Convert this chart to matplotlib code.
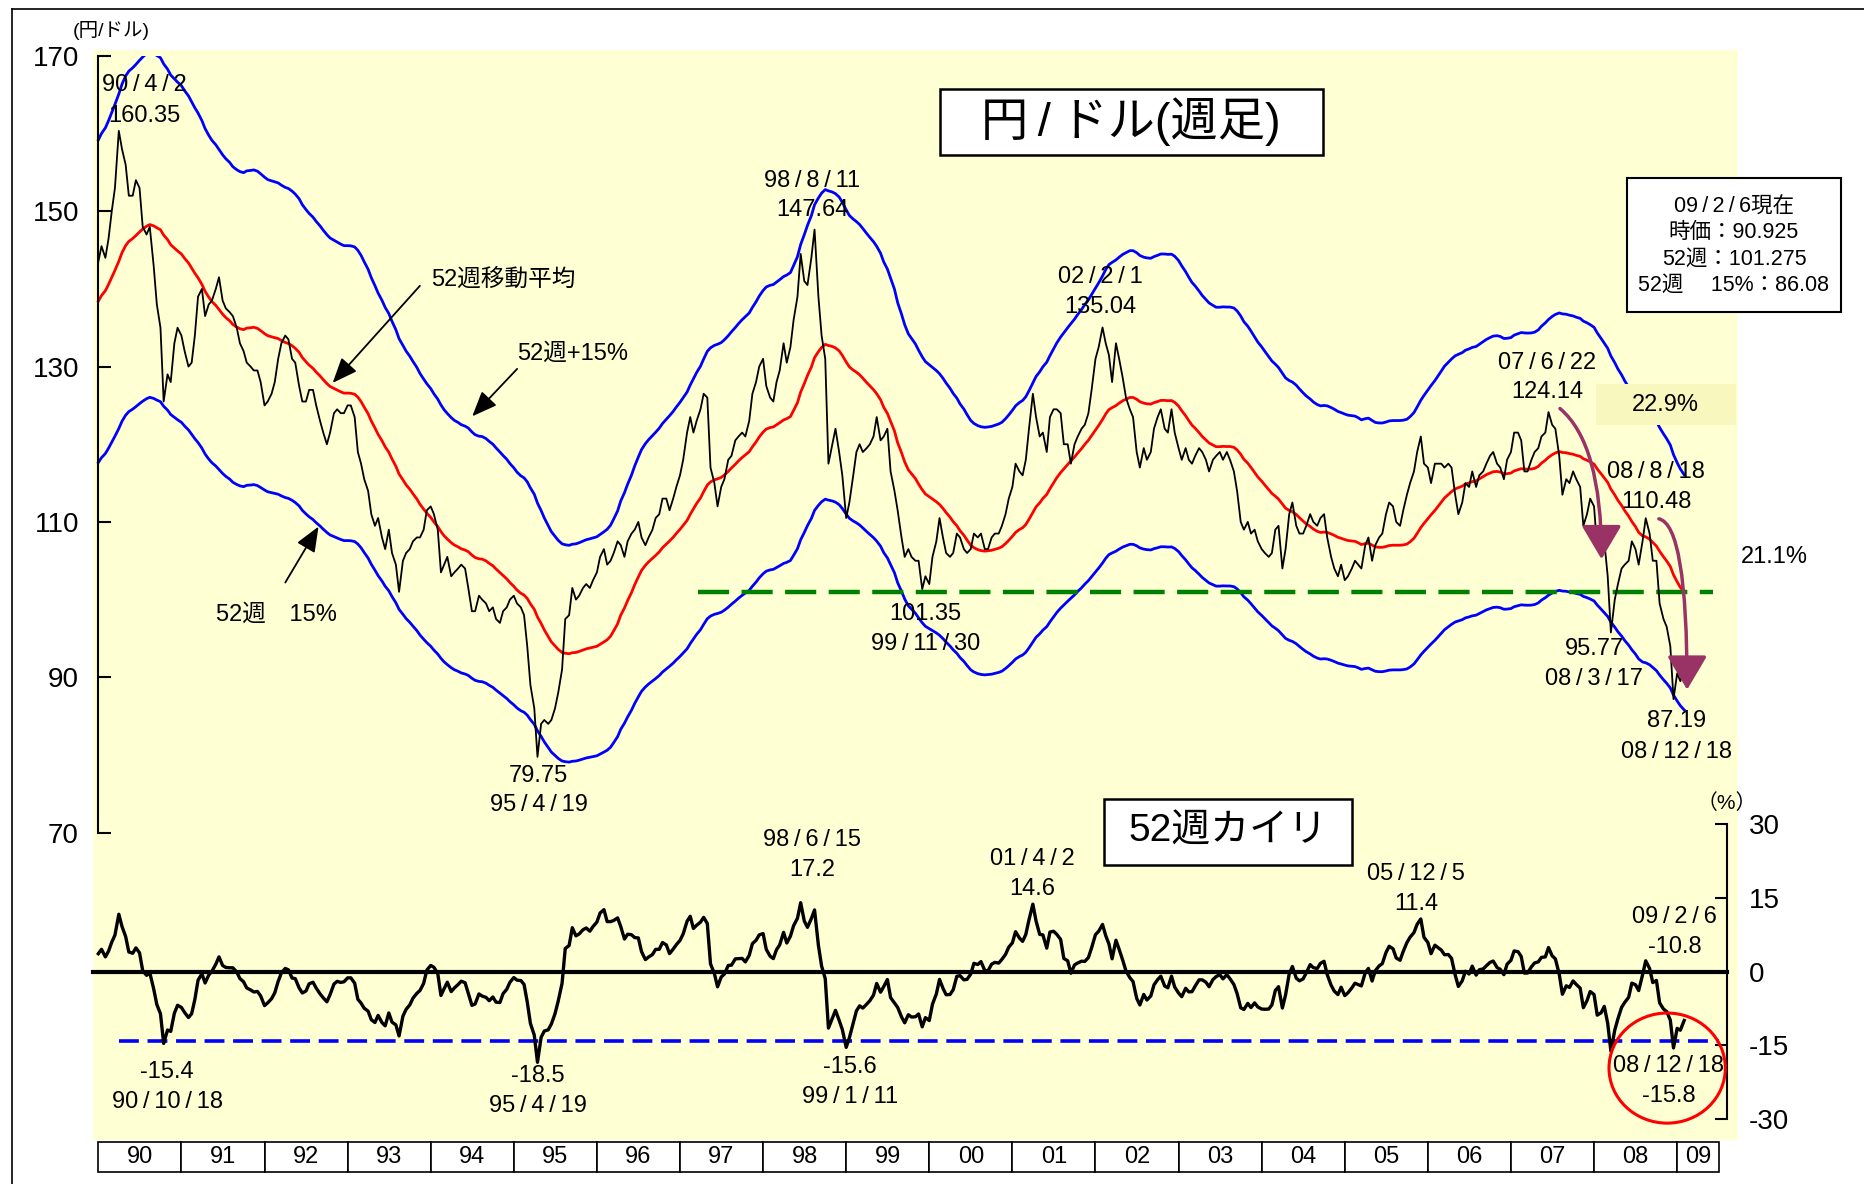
import numpy as np
import pandas as pd
import matplotlib
matplotlib.use('Agg')
import matplotlib.pyplot as plt
from matplotlib.patches import Rectangle, Ellipse, FancyArrowPatch
from matplotlib.lines import Line2D

plt.rcParams['font.family'] = ['Liberation Sans', 'Noto Sans CJK JP', 'DejaVu Sans']
plt.rcParams['axes.unicode_minus'] = False

# semi-monthly (1st / 15th) yen per dollar
usd_1989 = [125.5, 128.0, 129.0, 127.0, 128.5, 131.0, 132.5, 131.5, 134.0, 139.0, 143.0, 145.0,
            142.0, 139.0, 138.0, 143.0, 147.0, 144.0, 141.0, 142.0, 143.0, 144.0, 143.0, 144.0]
usd_1990 = [143.5, 145.5, 144.0, 146.5, 150.0, 153.0, 160.35, 158.0, 156.0, 152.0, 152.0, 154.0,
            153.0, 148.0, 147.0, 148.0, 143.0, 138.0, 135.0, 125.5, 129.0, 128.0, 133.0, 135.0]
usd_1991 = [134.0, 132.0, 130.0, 130.5, 134.0, 139.0, 140.0, 136.5, 138.0, 138.5, 140.0, 141.5,
            138.5, 137.5, 137.0, 136.5, 135.0, 133.0, 132.0, 130.5, 130.0, 129.5, 129.5, 128.0]
usd_1992 = [125.0, 125.5, 126.5, 128.0, 131.0, 133.0, 134.0, 133.5, 131.0, 130.5, 127.5, 125.5,
            125.5, 127.0, 127.0, 125.0, 123.0, 121.5, 120.0, 121.5, 124.0, 124.5, 124.0, 124.0]
usd_1993 = [125.0, 125.0, 123.5, 119.0, 117.5, 115.5, 114.0, 111.0, 109.5, 110.5, 108.0, 106.5,
            109.0, 106.0, 104.5, 101.0, 105.0, 106.0, 106.5, 107.5, 108.0, 108.0, 109.0, 111.5]
usd_1994 = [112.0, 111.0, 109.0, 103.5, 104.5, 105.5, 103.0, 103.5, 104.0, 104.5, 104.0, 101.5,
            98.5, 98.5, 100.5, 100.0, 99.5, 98.5, 99.0, 97.5, 97.0, 98.5, 99.0, 100.0]
usd_1995 = [100.5, 99.5, 99.0, 98.0, 94.0, 89.0, 86.0, 79.75, 84.0, 84.5, 84.0, 84.5,
            86.0, 88.0, 91.0, 97.5, 98.0, 101.5, 100.0, 100.5, 101.5, 102.0, 101.5, 102.5]
usd_1996 = [103.5, 105.5, 106.5, 104.5, 105.0, 106.0, 107.5, 107.0, 105.5, 107.5, 108.5, 109.0,
            110.0, 108.0, 107.0, 108.0, 109.0, 110.5, 111.0, 113.0, 113.0, 111.5, 113.0, 114.5]
usd_1997 = [116.0, 118.0, 121.5, 123.5, 121.5, 123.0, 124.5, 126.5, 126.0, 117.0, 115.0, 112.0,
            114.5, 115.5, 118.0, 118.5, 120.5, 121.0, 121.5, 121.0, 123.0, 126.5, 128.0, 130.0]
usd_1998 = [131.0, 127.5, 126.0, 125.5, 128.0, 129.5, 133.0, 130.5, 132.5, 136.0, 139.0, 144.5,
            141.0, 140.5, 144.0, 147.64, 139.0, 134.0, 131.0, 117.5, 120.0, 122.0, 119.0, 116.0]
usd_1999 = [110.5, 112.5, 116.0, 119.0, 120.0, 119.0, 119.5, 120.0, 121.0, 123.5, 120.5, 121.0,
            122.0, 116.5, 114.0, 111.5, 108.0, 105.5, 106.5, 105.5, 105.0, 105.0, 101.35, 103.0]
usd_2000 = [102.0, 105.5, 107.5, 110.5, 108.0, 106.0, 105.5, 106.0, 108.5, 108.0, 106.5, 106.0,
            106.5, 108.5, 108.0, 108.5, 106.5, 106.5, 108.0, 108.5, 108.5, 109.5, 111.0, 113.0]
usd_2001 = [114.5, 117.5, 116.5, 116.0, 118.0, 122.0, 126.5, 123.5, 121.0, 121.5, 119.0, 123.5,
            124.5, 124.5, 124.0, 120.0, 120.0, 117.5, 120.0, 121.0, 122.0, 122.5, 124.0, 127.0]
usd_2002 = [131.0, 132.5, 135.04, 133.0, 131.5, 128.0, 133.0, 131.0, 128.5, 126.0, 124.5, 123.5,
            119.0, 117.0, 119.5, 118.0, 119.0, 122.0, 123.5, 124.5, 122.0, 121.5, 124.5, 121.5]
usd_2003 = [119.5, 118.0, 119.5, 118.0, 117.5, 118.5, 119.5, 119.0, 118.0, 116.5, 118.0, 118.5,
            119.0, 118.0, 119.0, 118.0, 116.5, 114.0, 110.0, 109.0, 110.0, 108.5, 109.0, 107.5]
usd_2004 = [106.5, 106.0, 105.5, 106.0, 109.0, 109.5, 104.0, 106.5, 111.0, 112.5, 109.5, 108.5,
            108.5, 109.5, 111.0, 110.0, 109.5, 110.5, 111.0, 108.0, 105.5, 104.0, 103.0, 104.5]
usd_2005 = [102.5, 103.0, 104.0, 105.0, 104.5, 104.0, 107.0, 108.0, 105.0, 107.0, 108.0, 108.5,
            111.0, 112.5, 112.0, 110.0, 109.5, 111.5, 113.5, 115.0, 116.5, 119.0, 121.0, 117.5]
usd_2006 = [117.0, 115.0, 117.5, 117.5, 117.5, 117.0, 117.5, 117.0, 113.5, 111.0, 112.5, 115.0,
            114.5, 116.5, 114.5, 116.0, 116.5, 117.5, 118.5, 119.0, 117.5, 117.0, 115.5, 118.0]
usd_2007 = [119.0, 121.5, 121.5, 120.5, 116.5, 116.5, 118.0, 119.0, 119.5, 121.0, 121.5, 124.14,
            122.5, 122.0, 118.5, 113.5, 115.5, 115.0, 116.5, 115.5, 114.5, 109.5, 111.0, 113.0]
usd_2008 = [112.0, 106.5, 106.5, 107.5, 103.0, 95.77, 100.0, 102.0, 104.0, 104.5, 105.0, 107.5,
            106.5, 104.5, 107.5, 110.48, 108.5, 105.0, 105.0, 99.5, 97.5, 96.5, 94.0, 87.19]
usd_2009 = [90.5, 89.5, 90.925]

year_labels = ['90', '91', '92', '93', '94', '95', '96', '97', '98', '99',
               '00', '01', '02', '03', '04', '05', '06', '07', '08', '09']
price_ticks = [70, 90, 110, 130, 150, 170]
dev_ticks = [-30, -15, 0, 15, 30]
dev_line_level = -14

YELLOW = '#FFFFD4'
BLUE = '#0000FF'
PURPLE = '#993366'

values = (usd_1989 + usd_1990 + usd_1991 + usd_1992 + usd_1993 + usd_1994 + usd_1995 +
          usd_1996 + usd_1997 + usd_1998 + usd_1999 + usd_2000 + usd_2001 + usd_2002 +
          usd_2003 + usd_2004 + usd_2005 + usd_2006 + usd_2007 + usd_2008 + usd_2009)
dates = pd.date_range('1989-01-01', periods=len(values), freq='SMS')
s = pd.Series(values, index=dates)
ma = s.rolling(24).mean()   # 24 half-months = 52 weeks
dev = (s / ma - 1) * 100

keep = s.index >= '1990-01-01'
t = (s.index.year + (s.index.dayofyear - 1) / 365.0)[keep]
price = s[keep].values
ma52 = ma[keep].values
dev52 = dev[keep].values

W, H = 1865, 1184
fig = plt.figure(figsize=(W / 100, H / 100), dpi=100)


def fx(px):
    return px / W


def fy(py):
    return 1 - py / H


def box_px(x0, y0, x1, y1, **kw):
    r = Rectangle((fx(x0), fy(y1)), fx(x1) - fx(x0), fy(y0) - fy(y1),
                  transform=fig.transFigure, **kw)
    fig.add_artist(r)
    return r


def sl(txt):
    # the original font leaves air round the slashes
    return txt.replace('/', '\u2009/\u2009')


# frame + yellow panel
fig.add_artist(Line2D([fx(12), fx(12)], [fy(9), 0], color='black', lw=1.2))
fig.add_artist(Line2D([fx(12), 1], [fy(9), fy(9)], color='black', lw=1.2))
box_px(93, 50, 1738, 1140, facecolor=YELLOW, edgecolor='none', zorder=-10)

X0, X1 = 1989.96, 2009.60
L, R = 95, 1727

# ---- price panel
ax = fig.add_axes([fx(L), fy(832.6), fx(R) - fx(L), fy(55.9) - fy(832.6)])
ax.set_facecolor('none')
ax.set_xlim(X0, X1)
ax.set_ylim(70, 170)
for sp in ['top', 'right', 'bottom']:
    ax.spines[sp].set_visible(False)
ax.spines['left'].set_position(('data', 1990.0))
ax.spines['left'].set_bounds(70, 170)
ax.spines['left'].set_linewidth(1.5)
ax.set_xticks([])
ax.set_yticks(price_ticks)
ax.tick_params(axis='y', direction='in', length=9, width=1.5, labelsize=20, pad=14)

ax.plot(t, ma52 * 1.15, color=BLUE, lw=2.0, zorder=2)
ax.plot(t, ma52 * 0.85, color=BLUE, lw=2.0, zorder=2)
ax.plot(t, ma52, color='red', lw=2.0, zorder=2)
ax.plot(t, price, color='black', lw=1.3, zorder=3)
ax.plot([1997.22, 2009.43], [ma52[-1], ma52[-1]], color='#008000', lw=3.2,
        dashes=(7, 2.8), zorder=2)

lab = dict(ha='center', va='center', fontsize=17)
price_notes = [
    (1990.56, 166.2, '90/4/2'), (1990.56, 162.3, '160.35'),
    (1998.59, 153.9, '98/8/11'), (1998.59, 150.1, '147.64'),
    (2002.06, 141.5, '02/2/1'), (2002.06, 137.7, '135.04'),
    (2007.44, 130.5, '07/6/22'), (2007.44, 126.7, '124.14'),
    (2008.75, 116.4, '08/8/18'), (2008.75, 112.6, '110.48'),
    (2008.00, 93.6, '95.77'), (2008.00, 89.8, '08/3/17'),
    (2008.99, 84.4, '87.19'), (2008.99, 80.4, '08/12/18'),
    (1999.95, 98.2, '101.35'), (1999.95, 94.3, '99/11/30'),
    (1995.30, 77.35, '79.75'), (1995.30, 73.5, '95/4/19'),
]
for x, y, txt in price_notes:
    ax.text(x, y, sl(txt), zorder=5, **lab)

ax.text(2010.17, 105.5, '21.1%', clip_on=False, **lab)
ax.add_patch(Rectangle((2008.02, 122.5), 1.69, 5.2, facecolor='#F7F7BE',
                       edgecolor='none', zorder=4, clip_on=False))
ax.text(2008.86, 125.1, '22.9%', zorder=5, **lab)
ax.text(1990.15, 173.3, '(円/ドル)', ha='center', va='center', fontsize=14,
        clip_on=False)

ax.text(1994.0, 141.2, '52週移動平均', ha='left', va='center', fontsize=17)
ax.text(1995.04, 131.7, '52週+15%', ha='left', va='center', fontsize=17)
ax.text(1992.14, 98.0, '52週\u300015%', ha='center', va='center', fontsize=17)

black_arrow = dict(arrowstyle='-|>,head_length=1.1,head_width=0.45', color='black',
                   lw=1.3, mutation_scale=14, shrinkA=0, shrinkB=0)
ax.annotate('', xy=(1992.82, 127.9), xytext=(1993.87, 140.4), arrowprops=black_arrow)
ax.annotate('', xy=(1994.50, 123.6), xytext=(1995.04, 129.7), arrowprops=black_arrow)
ax.annotate('', xy=(1992.65, 109.4), xytext=(1992.25, 102.2), arrowprops=black_arrow)

for a, b, ang in [((2007.59, 124.6), (2008.09, 105.2), -40),
                  ((2008.78, 110.4), (2009.12, 88.4), -12)]:
    ax.add_patch(FancyArrowPatch(a, b, connectionstyle='angle3,angleA=%d,angleB=90' % ang,
                                 arrowstyle='-|>,head_length=1.05,head_width=0.62',
                                 mutation_scale=20, color=PURPLE, lw=2.5,
                                 shrinkA=0, shrinkB=0, zorder=6, clip_on=False))

# ---- deviation panel
ax2 = fig.add_axes([fx(L), fy(1119.2), fx(R) - fx(L), fy(824.3) - fy(1119.2)])
ax2.set_facecolor('none')
ax2.set_xlim(X0, X1)
ax2.set_ylim(-30, 30)
for sp in ['top', 'left', 'bottom']:
    ax2.spines[sp].set_visible(False)
ax2.spines['right'].set_linewidth(1.5)
ax2.set_xticks([])
ax2.yaxis.tick_right()
ax2.set_yticks(dev_ticks)
ax2.set_yticklabels([str(v) for v in dev_ticks])
ax2.tick_params(axis='y', direction='in', length=9, width=1.5, labelsize=20, pad=16)

ax2.plot([1989.93, X1], [0, 0], color='black', lw=3, clip_on=False)
ax2.plot([1990.25, 2009.5], [dev_line_level, dev_line_level], color=BLUE, lw=2.6,
         dashes=(5.5, 2.4))
ax2.plot(t, dev52, color='black', lw=2.4, zorder=3)

dev_notes = [
    (1990.83, -20.3, '-15.4'), (1990.83, -26.4, '90/10/18'),
    (1995.29, -21.3, '-18.5'), (1995.29, -27.3, '95/4/19'),
    (1998.59, 26.9, '98/6/15'), (1998.59, 20.8, '17.2'),
    (1999.05, -19.4, '-15.6'), (1999.05, -25.4, '99/1/11'),
    (2001.24, 23.0, '01/4/2'), (2001.24, 16.9, '14.6'),
    (2005.86, 19.85, '05/12/5'), (2005.86, 13.8, '11.4'),
    (2008.97, 11.1, '09/2/6'), (2008.97, 5.1, '-10.8'),
    (2008.90, -19.1, '08/12/18'), (2008.90, -25.2, '-15.8'),
]
for x, y, txt in dev_notes:
    ax2.text(x, y, sl(txt), clip_on=False, **lab)
ax2.add_patch(Ellipse((2008.88, -19.6), 1.40, 22.4, fill=False, edgecolor='red',
                      lw=2.2, clip_on=False, zorder=4))
ax2.text(2009.60, 34.4, '（%）', ha='center', va='center', fontsize=15, clip_on=False)

# ---- year strip
ax3 = fig.add_axes([fx(L), fy(1171.6), fx(R) - fx(L), fy(1141.8) - fy(1171.6)])
ax3.set_xlim(X0, X1)
ax3.set_ylim(0, 1)
ax3.axis('off')
for i, yl in enumerate(year_labels):
    a = max(1990 + i, X0)
    b = 2009.5 if yl == '09' else 1991 + i
    ax3.add_patch(Rectangle((a, 0), b - a, 1, facecolor='white', edgecolor='black',
                            lw=1.2, clip_on=False))
    ax3.text((a + b) / 2, 0.48, yl, ha='center', va='center', fontsize=17)

# ---- boxed titles
box_px(939.6, 89.2, 1322.6, 154.6, facecolor='white', edgecolor='black', lw=1.8, zorder=5)
fig.text(fx(1131), fy(122), sl('円/ドル(週足)'), ha='center', va='center', fontsize=34,
         zorder=6)
box_px(1104, 799, 1352, 865, facecolor='white', edgecolor='black', lw=1.8, zorder=5)
fig.text(fx(1228), fy(832), '52週カイリ', ha='center', va='center', fontsize=28, zorder=6)
box_px(1627, 178.4, 1841, 311.6, facecolor='white', edgecolor='black', lw=1.5, zorder=5)
fig.text(fx(1734), fy(246),
         sl('09/2/6現在') + '\n時価：90.925\n52週：101.275\n52週\u3000 15%：86.08',
         ha='center', va='center', fontsize=15.5, linespacing=1.32, zorder=6)

fig.savefig('out.png', dpi=100)
